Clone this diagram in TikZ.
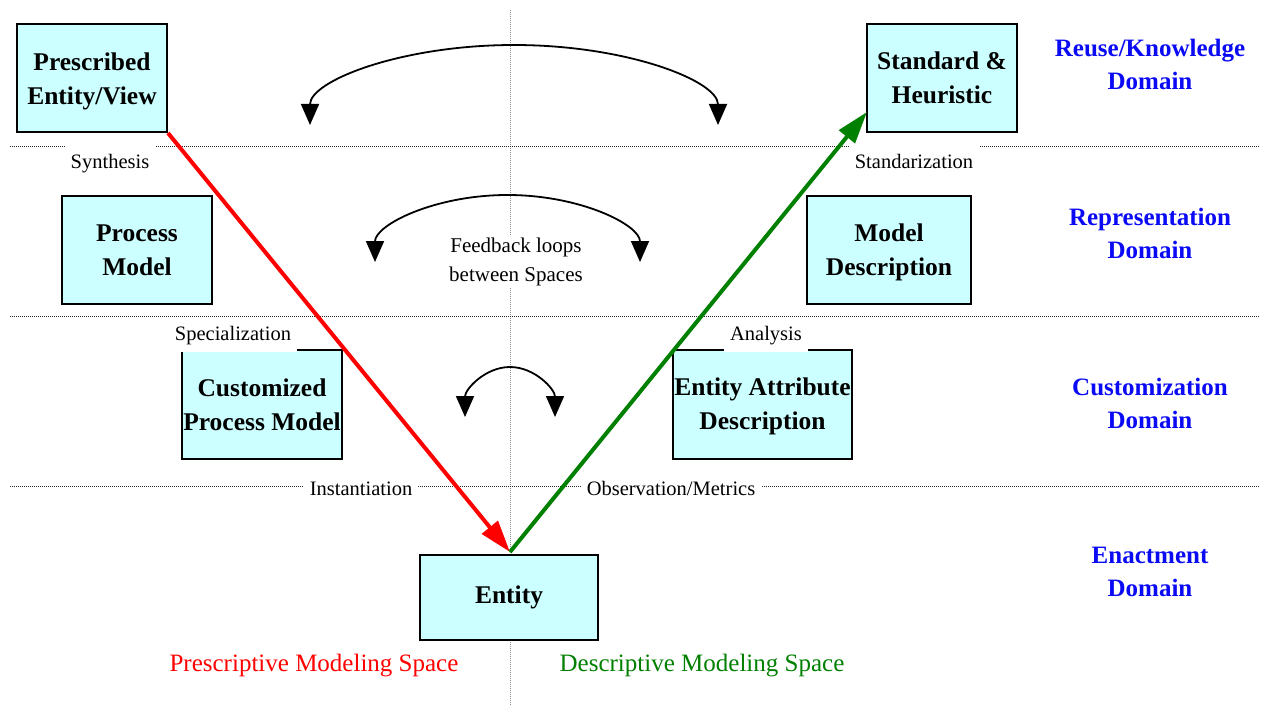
\documentclass[tikz,border=0pt]{standalone}
\usepackage{fontspec}
\setmainfont{Liberation Serif}
\usetikzlibrary{arrows.meta}
\definecolor{boxfill}{HTML}{CCFFFF}
\definecolor{domblue}{HTML}{0A0AF5}
\definecolor{descgreen}{HTML}{008000}
\definecolor{presred}{HTML}{FF0000}

\begin{document}
\begin{tikzpicture}[x=1pt,y=-1pt,
  modelbox/.style={draw=black, line width=2pt, fill=boxfill, align=center, inner sep=0pt,
    font=\fontsize{25.5}{34}\selectfont\bfseries},
  steplabel/.style={fill=white, inner xsep=6pt, inner ysep=2pt, anchor=base,
    font=\fontsize{20.5}{24}\selectfont},
  domlabel/.style={align=center, text=domblue, font=\fontsize{25}{33}\selectfont\bfseries},
  spacelabel/.style={font=\fontsize{25}{28}\selectfont},
  domsep/.style={line width=1pt, dash pattern=on 1pt off 1pt, black!85},
  midaxis/.style={line width=1pt, dash pattern=on 1pt off 1pt, black!45},
  fbloop/.style={line width=1.8pt,
    {Triangle[length=21pt,width=18pt]}-{Triangle[length=21pt,width=18pt]}},
  flowarrow/.style={line width=4pt, -{Triangle[length=32pt,width=20pt]}}]

\fill[white] (0,0) rectangle (1263,706);
\useasboundingbox (0,0) rectangle (1263,706);

% domain separators and the axis between the two spaces
\coordinate (axtop) at (510,10);
\coordinate (axbot) at (510,706);
\draw[midaxis] (axtop) -- (axbot);
\foreach \y/\n in {146/a, 316/b, 486/c} {
  \coordinate (sl\n) at (10,\y);
  \coordinate (sr\n) at (1260,\y);
  \draw[domsep] (sl\n) -- (sr\n);
}

% model boxes (struts in the first line lower the text a little)
\node[modelbox, minimum width=150pt, minimum height=108pt] (pev) at (92,78) {\rule{0pt}{25.5pt}Prescribed\\Entity/View};
\node[modelbox, minimum width=150pt, minimum height=108pt] (std) at (942,78) {Standard \&\\Heuristic};
\node[modelbox, minimum width=150pt, minimum height=108pt] (pm) at (137,250) {Process\\Model};
\node[modelbox, minimum width=164pt, minimum height=108pt] (md) at (889,250) {\rule{0pt}{21.5pt}Model\\Description};
\node[modelbox, minimum width=160pt, minimum height=109pt] (cpm) at (262,404.5) {Customized\\Process Model};
\node[modelbox, minimum width=179pt, minimum height=109pt] (ead) at (762.5,404.5) {\rule{0pt}{21.5pt}Entity Attribute\\Description};
\node[modelbox, minimum width=178pt, minimum height=85pt] (ent) at (509,597) {Entity};

% transition labels
\node[steplabel, text height=21pt] (syn) at (110,168) {Synthesis};
\node[steplabel, text height=21pt] (stz) at (914,168) {Standarization};
\node[steplabel, text height=18pt, text depth=10pt] (spc) at (233,340) {Specialization};
\node[steplabel, text height=18pt, text depth=10pt] (ana) at (766,340) {Analysis};
\node[steplabel] (ins) at (361,495) {Instantiation};
\node[steplabel] (obs) at (671,495) {Observation/Metrics};

% feedback loops between the spaces
\node[fill=white, align=center, inner sep=2pt, font=\fontsize{21}{29}\selectfont] (fb) at (516,262)
  {Feedback loops\\between Spaces};
\coordinate (lpa) at (310,125);
\coordinate (lpb) at (375,262);
\coordinate (lpc) at (465,417);
\draw[fbloop] (lpa) arc[start angle=180, end angle=360, x radius=204, y radius=80];
\draw[fbloop] (lpb) arc[start angle=180, end angle=360, x radius=132.5, y radius=67];
\draw[fbloop] (lpc) arc[start angle=180, end angle=360, x radius=45, y radius=50];

% domain names
\node[domlabel] (dre) at (1150,64) {Reuse/Knowledge\\Domain};
\node[domlabel] (drp) at (1150,233) {Representation\\Domain};
\node[domlabel] (dcu) at (1150,403) {Customization\\Domain};
\node[domlabel] (den) at (1150,572) {Enactment\\Domain};

% modeling spaces
\node[spacelabel, text=presred] (pms) at (314,666) {Prescriptive Modeling Space};
\node[spacelabel, text=descgreen] (dms) at (702,666) {Descriptive Modeling Space};

% prescriptive and descriptive paths
\coordinate (apex) at (510,552);
\coordinate (stdin) at (867,112);
\draw[flowarrow, presred] (pev.south east) -- (apex);
\draw[flowarrow, descgreen] (apex) -- (stdin);
\end{tikzpicture}
\end{document}
